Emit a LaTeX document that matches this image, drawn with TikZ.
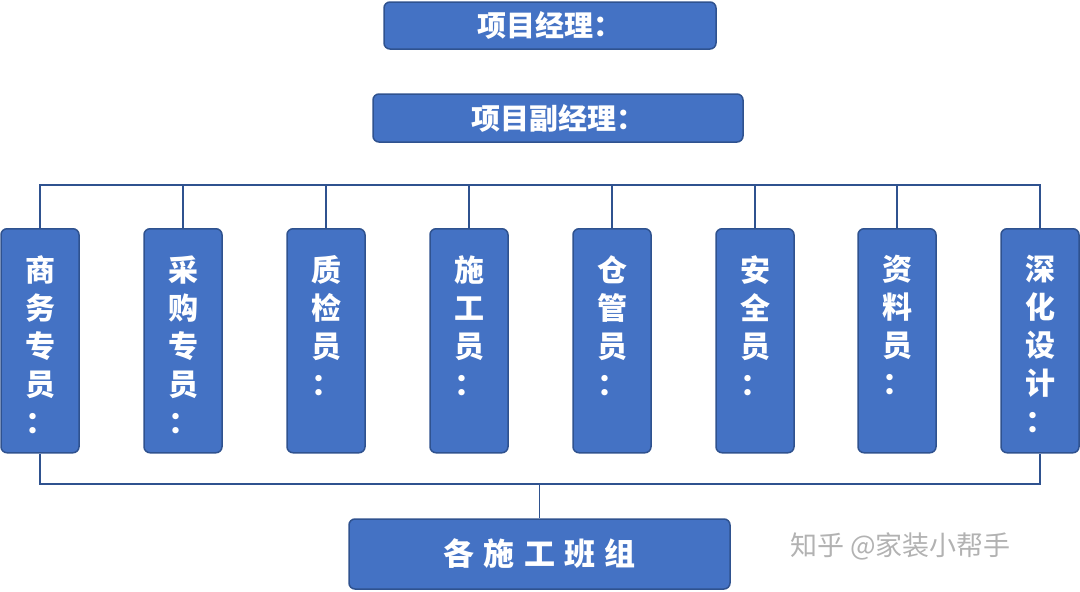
\documentclass[tikz,border=0pt]{standalone}
\usepackage{fontspec}
\newfontfamily\cjk{Noto Sans CJK SC}
\definecolor{boxfill}{HTML}{4472C4}
\definecolor{boxline}{HTML}{2F528F}
\begin{document}
\begin{tikzpicture}[x=1pt,y=-1pt,
  box/.style={draw=boxline,line width=1.5pt,fill=boxfill,rounded corners=6pt,text=white,font=\cjk\bfseries},
  vbox/.style={box,minimum width=78pt,minimum height=224pt,inner sep=0pt,anchor=north},
  ln/.style={draw=boxline,line width=1.2pt}]
\useasboundingbox (0,0) rectangle (1080,592);
\node[box,minimum width=332pt,minimum height=47pt,font=\cjk\bfseries\fontsize{29}{32}\selectfont] (pm) at (550,25.5) {项目经理：};
\node[box,minimum width=370pt,minimum height=48pt,font=\cjk\bfseries\fontsize{29}{32}\selectfont] (dpm) at (558,118) {项目副经理：};
\newcommand{\vc}{：}
\foreach \i/\x/\t in {1/40/商\\务\\专\\员\\\vc, 2/183/采\\购\\专\\员\\\vc, 3/326/质\\检\\员\\\vc, 4/469/施\\工\\员\\\vc, 5/612/仓\\管\\员\\\vc, 6/755/安\\全\\员\\\vc, 7/897/资\\料\\员\\\vc, 8/1040/深\\化\\设\\计\\\vc}{
  \node[vbox] (v\i) at (\x,228) {};
  \node[anchor=north,text=white,font=\cjk\bfseries\fontsize{30}{38}\selectfont,align=center] at (\x,252) {\t};
}
\node[box,minimum width=381pt,minimum height=70pt,font=\cjk\bfseries\fontsize{31}{34}\selectfont] (team) at (539.5,554) {各\hspace{0.3em}施\hspace{0.3em}工\hspace{0.3em}班\hspace{0.3em}组};
\coordinate (tl) at (40,185); \coordinate (tr) at (1040,185);
\coordinate (bl) at (40,484); \coordinate (br) at (1040,484);
\draw[ln] (v1.north) -- (tl) -- (tr) -- (v8.north);
\foreach \i in {2,...,7}{\draw[ln] (v\i.north) -- (v\i.north |- tl);}
\draw[ln] (v1.south) -- (bl) -- (br) -- (v8.south);
\draw[ln] (team.north) -- (team.north |- bl);
\node[text=gray!60,font=\cjk\fontsize{27}{30}\selectfont,anchor=west,inner sep=0pt] (wm) at (790,546) {知乎 @家装小帮手};
\end{tikzpicture}
\end{document}
